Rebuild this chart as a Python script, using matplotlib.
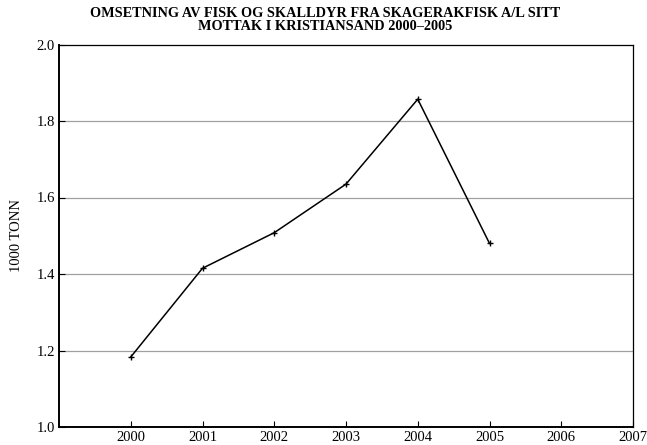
import matplotlib
matplotlib.use("Agg")
import matplotlib.pyplot as plt

years = [2000, 2001, 2002, 2003, 2004, 2005]
tonn = [1.183, 1.415, 1.508, 1.635, 1.857, 1.480]
x_ticks = [2000, 2001, 2002, 2003, 2004, 2005, 2006, 2007]
y_ticks = [1.0, 1.2, 1.4, 1.6, 1.8, 2.0]
title = "OMSETNING AV FISK OG SKALLDYR FRA SKAGERAKFISK A/L SITT\nMOTTAK I KRISTIANSAND 2000\u20132005"

plt.rcParams["font.family"] = ["Liberation Serif", "DejaVu Serif"]

fig = plt.figure(figsize=(6.47, 4.45), dpi=100)
ax = fig.add_axes([59 / 647, 1 - 427 / 445, (633 - 59) / 647, (427 - 44.5) / 445])

for y in y_ticks[1:-1]:
    ax.axhline(y, color="#a0a0a0", linewidth=0.9, zorder=1)

ax.plot(years, tonn, color="black", linewidth=1.1, marker="+", markersize=5,
        markeredgewidth=1.0, zorder=3)

ax.set_xlim(1999, 2007)
ax.set_ylim(1.0, 2.0)
ax.set_xticks(x_ticks)
ax.set_xticklabels([str(v) for v in x_ticks])
ax.set_yticks(y_ticks)
ax.set_yticklabels([f"{v:.1f}" for v in y_ticks])
ax.tick_params(direction="in", length=4, width=0.8, labelsize=10.5, pad=3)
ax.set_ylabel("1000 TONN", fontsize=10.5, labelpad=10)

for side in ["top", "right"]:
    ax.spines[side].set_linewidth(0.9)
for side in ["left", "bottom"]:
    ax.spines[side].set_linewidth(1.4)

fig.text(0.503, 0.984, title, ha="center", va="top", fontsize=10.3,
         fontweight="bold", linespacing=1.0)

fig.savefig("out.png", dpi=100)
